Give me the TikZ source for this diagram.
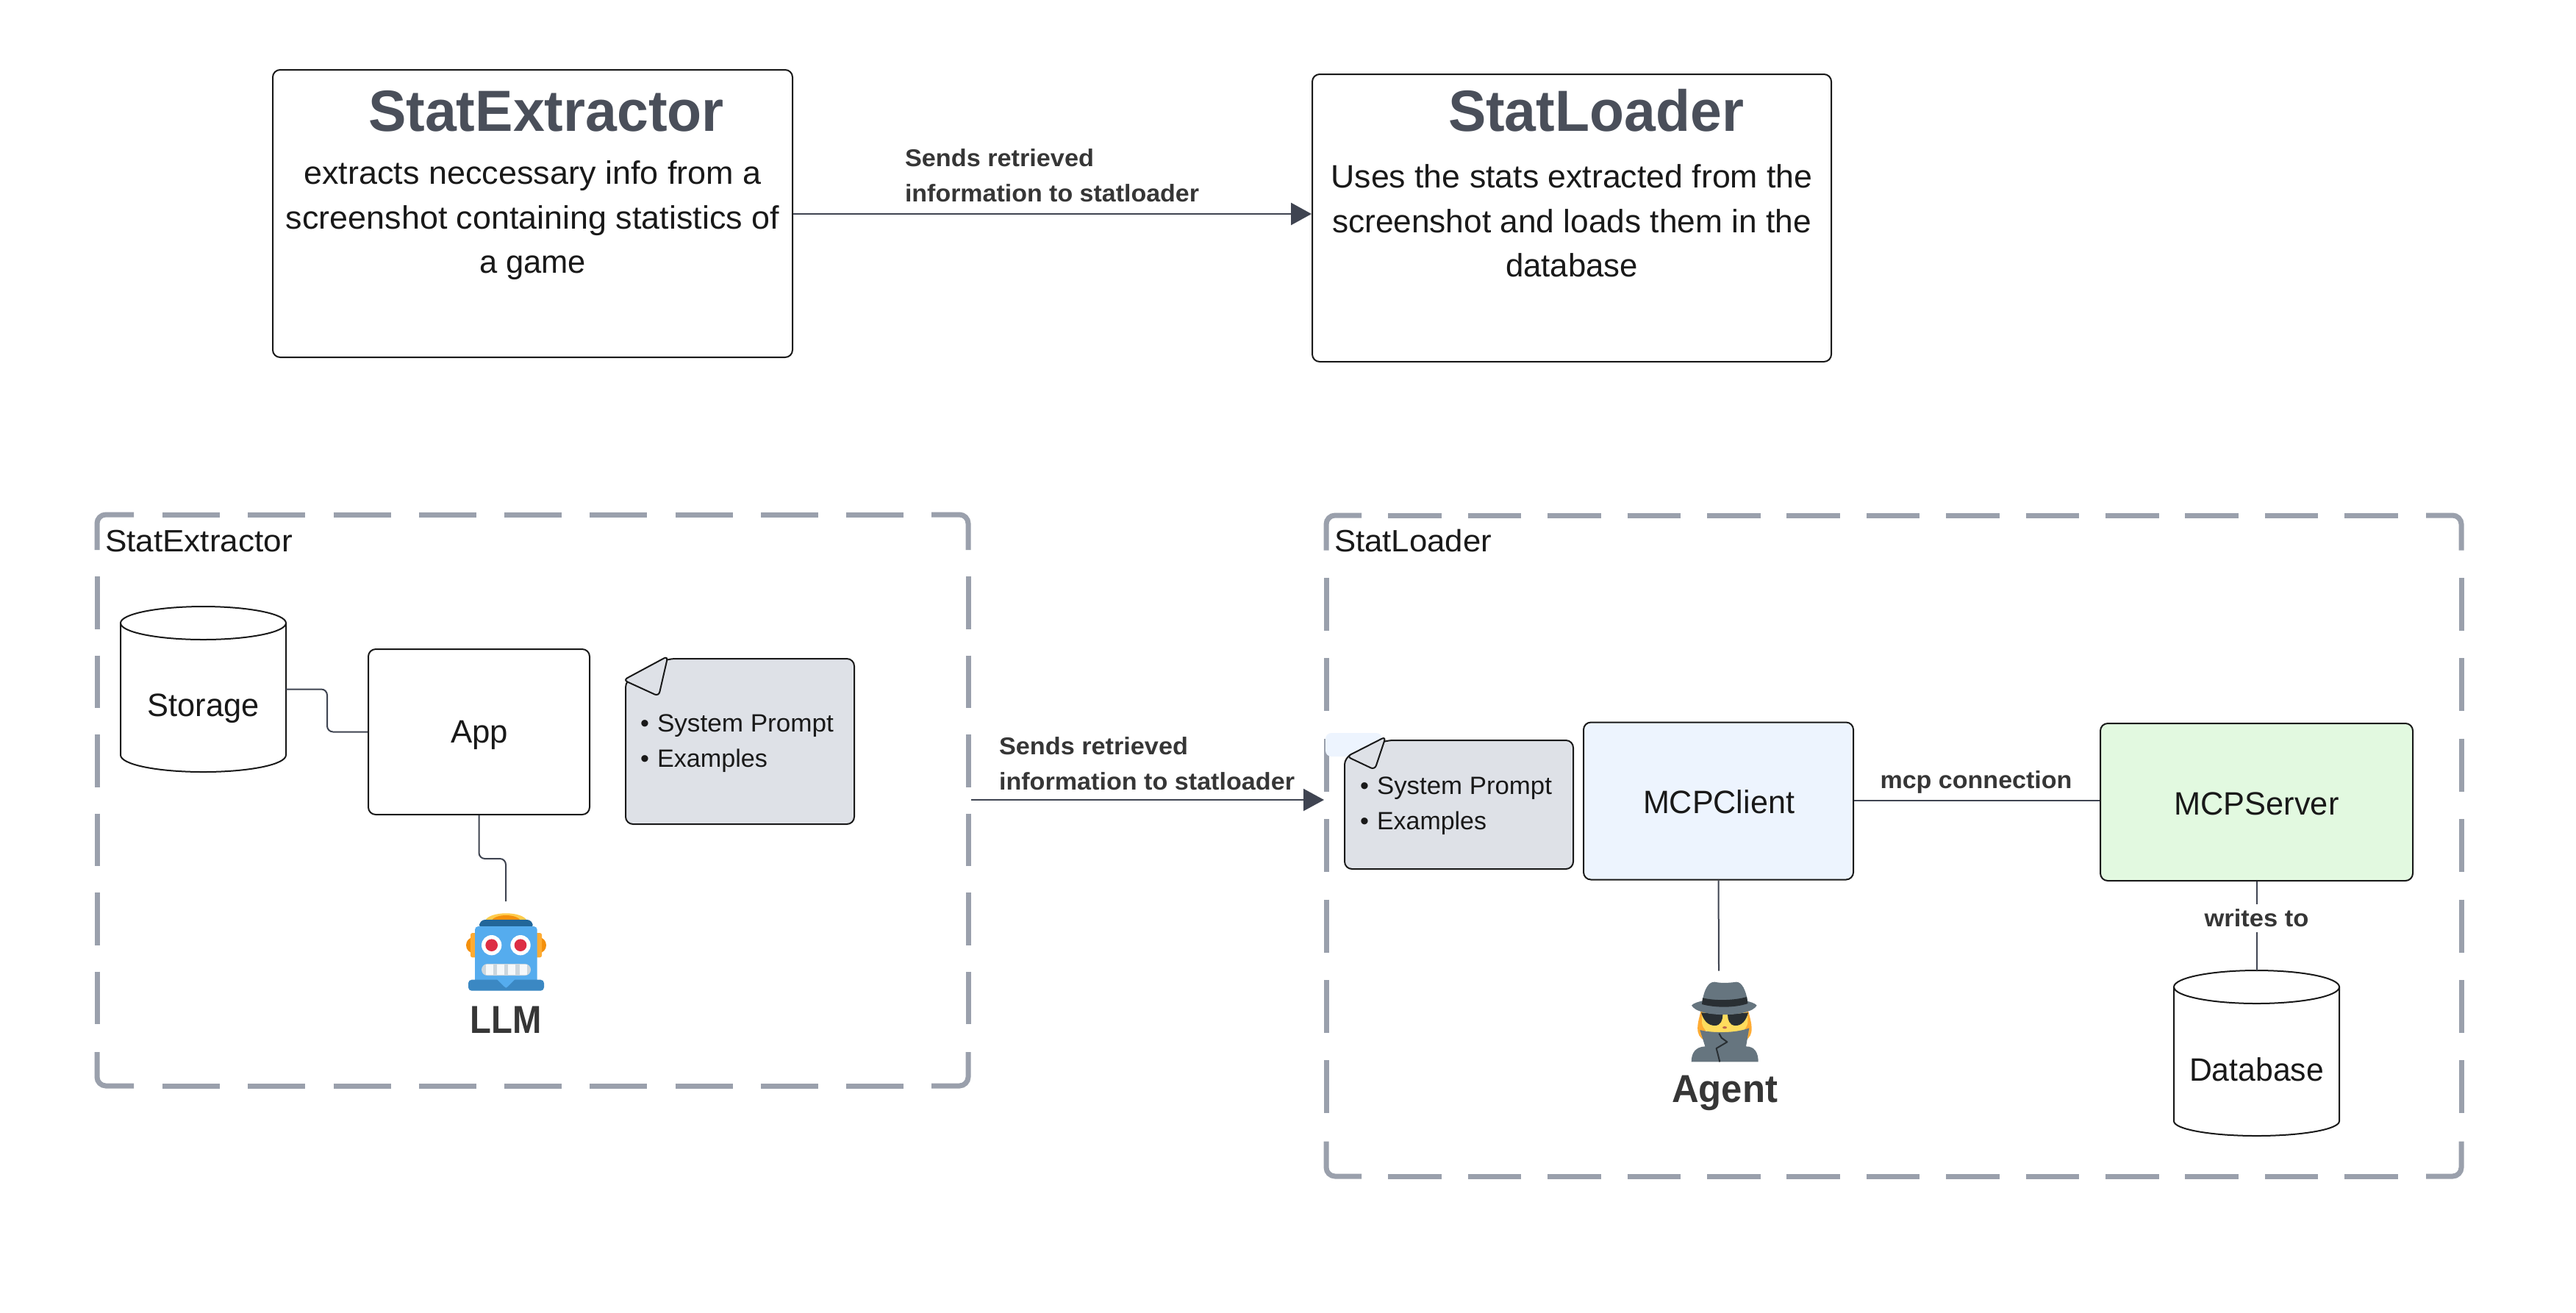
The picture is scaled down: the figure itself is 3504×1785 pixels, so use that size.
\documentclass[tikz,border=0pt]{standalone}
\usepackage{graphicx}
\usepackage{fontspec}
\setmainfont{Liberation Sans}
\usetikzlibrary{arrows.meta}
\definecolor{framegrey}{HTML}{9AA0AC}
\definecolor{connink}{HTML}{3F4451}
\definecolor{titleink}{HTML}{4A4F5A}
\definecolor{labelink}{HTML}{363636}
\definecolor{noteink}{HTML}{DEE1E7}
\definecolor{clientfill}{HTML}{EDF4FE}
\definecolor{serverfill}{HTML}{E2F9E0}
\definecolor{tYellow}{RGB}{255,204,77}
\definecolor{tOrange}{RGB}{244,144,12}
\definecolor{tAmber}{RGB}{255,172,51}
\definecolor{tNavy}{RGB}{34,102,153}
\definecolor{tBlue}{RGB}{85,172,238}
\definecolor{tMid}{RGB}{59,136,195}
\definecolor{tRed}{RGB}{221,46,68}
\definecolor{tPale}{RGB}{204,214,221}
\definecolor{tWhite}{RGB}{245,248,250}
\definecolor{tFace}{RGB}{255,220,93}
\definecolor{tNose}{RGB}{193,105,79}
\definecolor{tDark}{RGB}{41,47,51}
\definecolor{tGrey}{RGB}{102,117,127}
\newcommand\fw[2]{\resizebox{\dimexpr#1pt/2\relax}{\height}{#2}}
\newcommand\sz[2]{\fontsize{#1pt}{#2pt}\selectfont}
\tikzset{
  bx/.style={draw=black!90,line width=1pt,rounded corners=5pt,inner sep=0pt,fill=white},
  plain/.style={inner sep=0pt,outer sep=0pt},
  body/.style={plain,align=center,anchor=north,font=\sz{22}{30.2},text=black!90},
  title/.style={plain,anchor=base,font=\sz{39.5}{40}\bfseries,text=titleink},
  lab/.style={plain,anchor=base west,align=left,font=\sz{16.5}{23.7}\bfseries,text=labelink},
  midlab/.style={plain,anchor=base,font=\sz{16.5}{20}\bfseries,text=labelink},
  txt/.style={plain,anchor=base,font=\sz{22}{24},text=black!90},
  big/.style={plain,anchor=base,font=\sz{26.5}{28}\bfseries,text=labelink},
  notetxt/.style={plain,anchor=north west,align=left,font=\sz{17}{24},text=black!90},
  conn/.style={draw=connink,line width=1pt},
  thickconn/.style={draw=connink,line width=1.4pt},
  cyl/.style={draw=black!90,line width=1pt},
  fr/.style={draw=framegrey,line width=3.5pt},
  frc/.style={fr,rounded corners=6pt},
  notebody/.style={draw=black!90,fill=noteink,line width=1pt,rounded corners=5pt},
  fold/.style={draw=black!90,fill=noteink,line width=1pt,rounded corners=3pt},
}
\begin{document}
\begin{tikzpicture}[x=0.5pt,y=-0.5pt]
\useasboundingbox (0,0) rectangle (3504,1785);
\fill[white] (0,0) rectangle (3504,1785);

% ---------- top boxes
\node[bx,minimum width=353.5pt,minimum height=195.5pt] (topA) at (724.5,290.5) {};
\node[bx,minimum width=353pt,minimum height=195.5pt] (topB) at (2138,296.5) {};
\node[title] (topAtitle) at (743,178) {\fw{484}{StatExtractor}};
\node[title] (topBtitle) at (2171,178) {\fw{402}{StatLoader}};
\node[body] (topAbody) at (724.5,219) {\fw{622}{extracts neccessary info from a}\\ \fw{671}{screenshot containing statistics of}\\ \fw{145}{a game}};
\node[body] (topBbody) at (2138,224) {\fw{655}{Uses the stats extracted from the}\\ \fw{652}{screenshot and loads them in the}\\ \fw{180}{database}};
\coordinate (topRow) at (0,291);
\draw[thickconn,-{Triangle[length=14pt,width=15pt]}] (topA.east |- topRow) -- (topB.west |- topRow);
\node[lab] (topLab) at (1231,274) {\fw{257}{Sends retrieved}\\ \fw{400}{information to statloader}};

% ---------- left frame
\draw[frc] (132,748) -- (132,700) -- (182,700);
\draw[frc] (1267,700) -- (1317,700) -- (1317,748);
\draw[frc] (132,1431) -- (132,1477) -- (182,1477);
\draw[frc] (1267,1477) -- (1317,1477) -- (1317,1431);
\foreach \yy in {700,1477} \draw[fr,dash pattern=on 39pt off 19.125pt] (221,\yy) -- (1229,\yy);
\foreach \xx in {132,1317} \draw[fr,dash pattern=on 35.75pt off 18pt] (\xx,784) -- (\xx,1393);
\node[plain,anchor=base west,font=\sz{21}{24},text=black!90] (frameA) at (143,750.5) {\fw{255}{StatExtractor}};

% ---------- right frame
\draw[frc] (1804,748.5) -- (1804,701) -- (1852,701);
\draw[frc] (3300,701) -- (3348,701) -- (3348,748.5);
\draw[frc] (1804,1552.5) -- (1804,1600) -- (1852,1600);
\draw[frc] (3300,1600) -- (3348,1600) -- (3348,1552.5);
\foreach \yy in {701,1600} \draw[fr,dash pattern=on 36.3pt off 17.9pt] (1888.4,\yy) -- (3264,\yy);
\foreach \xx in {1804,3348} \draw[fr,dash pattern=on 36pt off 18.7pt] (\xx,786) -- (\xx,1516);
\node[plain,anchor=base west,font=\sz{21}{24},text=black!90] (frameB) at (1815,750.4) {\fw{214}{StatLoader}};

% ---------- left contents
\node[plain,minimum width=112.5pt,minimum height=112.5pt] (storage) at (276.5,937.5) {};
\draw[cyl] (276.5,847.5) ellipse[x radius=112.5,y radius=22.5];
\draw[cyl] (164,847.5) -- (164,1027) .. controls (164,1040) and (214,1050) .. (276.5,1050) .. controls (339,1050) and (389,1040) .. (389,1027) -- (389,847.5);
\node[txt] (storageTxt) at (276.5,974) {\fw{152}{Storage}};

\node[bx,minimum width=150.5pt,minimum height=112.5pt] (app) at (651.5,995.5) {};
\node[txt] (appTxt) at (652,1010) {\fw{78}{App}};
\draw[conn,rounded corners=4pt] (storage.east) -- (445,937.5) -- (445,995.5) -- (app.west);
\coordinate (llmEnd) at (688,1226);
\draw[conn,rounded corners=4pt] (app.south) -- (651.5,1168) -- (688,1168) -- (llmEnd);

% note 1
\draw[notebody] (851,925) -- (851,1121) -- (1162,1121) -- (1162,896) -- (908,896) -- cycle;
\draw[fold] (908.5,892.5) -- (848,925) -- (896,947) -- cycle;
\node[notetxt] (note1) at (871,972) {\makebox[11.5pt][l]{•}\fw{240}{System Prompt}\\ \makebox[11.5pt][l]{•}\fw{150}{Examples}};

% robot
\begin{scope}[shift={(560,1200)},x=0.16667pt,y=-0.16667pt]
  \fill[tYellow] (300,156) .. controls (320,117) and (450,117) .. (470,156) -- cycle;
  \fill[tOrange] (325,156) .. controls (345,128) and (425,128) .. (445,156) -- cycle;
  \fill[tNavy,rounded corners=4pt] (276,153) rectangle (494,195);
  \fill[tOrange] (252,257) ellipse[x radius=30,y radius=32];
  \fill[tOrange] (519,257) ellipse[x radius=30,y radius=32];
  \fill[tAmber,rounded corners=1.3pt] (240,207) rectangle (270,307);
  \fill[tAmber,rounded corners=1.3pt] (500,207) rectangle (531,307);
  \fill[tBlue,rounded corners=2.3pt] (258,180) rectangle (512,415);
  \fill[white] (326,257) circle[radius=41];
  \fill[white] (444,257) circle[radius=41];
  \fill[tRed] (326,257) circle[radius=25];
  \fill[tRed] (444,257) circle[radius=25];
  \fill[tPale,rounded corners=4pt] (285,333) rectangle (486,381);
  \foreach \aa/\bb in {302/332,348/378,393/422,440/470}
    \fill[tWhite] (\aa,337) rectangle (\bb,377);
  \fill[tMid,rounded corners=2.3pt] (231,398) rectangle (540,443);
  \fill[tBlue] (348,396) -- (422,396) -- (392,426) -- (385,431) -- (378,426) -- cycle;
\end{scope}
\node[big] (llm) at (688,1405) {\fw{97}{LLM}};

% ---------- right contents
\fill[clientfill,rounded corners=4pt] (1803,997) rectangle (1880,1029);
\node[bx,fill=clientfill,minimum width=183.5pt,minimum height=107pt] (client) at (2337.5,1089.5) {};
\node[bx,fill=serverfill,minimum width=212.5pt,minimum height=107pt] (server) at (3069.5,1091) {};
\node[txt] (clientTxt) at (2338,1106) {\fw{206}{MCPClient}};
\node[txt] (serverTxt) at (3069.5,1108) {\fw{224}{MCPServer}};

\draw[notebody] (1829,1030) -- (1829,1182) -- (2140,1182) -- (2140,1007) -- (1885,1007) -- cycle;
\draw[fold] (1885,1002) -- (1832,1029) -- (1870,1047) -- cycle;
\node[notetxt] (note2) at (1850,1057) {\makebox[11.5pt][l]{•}\fw{238}{System Prompt}\\ \makebox[11.5pt][l]{•}\fw{149}{Examples}};

\coordinate (mcpRow) at (0,1088.5);
\draw[conn] (client.east |- mcpRow) -- (server.west |- mcpRow);
\node[midlab] (mcpLab) at (2688,1072) {\fw{261}{mcp connection}};
\coordinate (agentEnd) at (2338,1320.5);
\draw[conn] (client.south) -- (agentEnd);

\node[plain,minimum width=112.5pt,minimum height=112.5pt] (database) at (3069.5,1432.5) {};
\draw[cyl] (3069.5,1342.5) ellipse[x radius=112.5,y radius=22.5];
\draw[cyl] (2957,1342.5) -- (2957,1525) .. controls (2957,1536) and (3007,1545) .. (3069.5,1545) .. controls (3132,1545) and (3182,1536) .. (3182,1525) -- (3182,1342.5);
\node[txt] (dbTxt) at (3069.5,1470) {\fw{183}{Database}};
\draw[conn] (server.south) -- (database.north);
\fill[white] (2990,1230) rectangle (3149,1268);
\node[midlab] (writesLab) at (3069.5,1260) {\fw{142}{writes to}};

% main arrow
\coordinate (arrowStart) at (1321,1088);
\coordinate (arrowTip) at (1801,1088);
\draw[conn,-{Triangle[length=14pt,width=15pt]}] (arrowStart) -- (arrowTip);
\node[lab] (midLab) at (1359,1074) {\fw{257}{Sends retrieved}\\ \fw{402}{information to statloader}};

% spy
\begin{scope}[shift={(2260,1300)},x=0.16667pt,y=-0.16667pt]
  \fill[tAmber] (160,228) .. controls (150,270) and (130,325) .. (178,346) -- (185,230) -- cycle;
  \fill[tAmber] (355,228) .. controls (365,270) and (385,325) .. (340,346) -- (335,230) -- cycle;
  \fill[tFace] (165,232) -- (352,232) -- (352,275) .. controls (345,300) and (330,315) .. (300,318) -- (210,318) .. controls (185,315) and (170,300) .. (165,275) -- cycle;
  \fill[tNose] (258,293) ellipse[x radius=9,y radius=5];
  \fill[tDark] (162,232) -- (250,240) .. controls (250,262) and (242,285) .. (218,285) .. controls (190,285) and (172,265) .. (162,232) -- cycle;
  \fill[tDark] (354,232) -- (270,240) .. controls (270,262) and (278,285) .. (302,285) .. controls (328,285) and (345,265) .. (354,232) -- cycle;
  \fill[tGrey] (123,203) .. controls (150,168) and (362,168) .. (389,203) .. controls (362,253) and (150,253) .. (123,203) -- cycle;
  \fill[tGrey] (166,190) .. controls (175,130) and (195,105) .. (218,107) .. controls (240,112) and (270,112) .. (305,107) .. controls (328,107) and (345,140) .. (352,190) -- cycle;
  \fill[tDark] (168,172) .. controls (220,185) and (300,182) .. (348,168) -- (352,195) .. controls (300,213) and (220,213) .. (165,198) -- cycle;
  \fill[tGrey] (157,303) .. controls (200,315) and (300,318) .. (358,295) -- (345,370) .. controls (380,370) and (395,395) .. (395,433) -- (122,433) .. controls (122,395) and (140,372) .. (178,370) -- cycle;
  \draw[tDark,line width=1pt,line join=round] (235,317) -- (245,335) -- (268,352) -- (224,378) -- (238,433);
\end{scope}
\node[big] (agent) at (2346,1499) {\fw{144}{Agent}};
\end{tikzpicture}
\end{document}
